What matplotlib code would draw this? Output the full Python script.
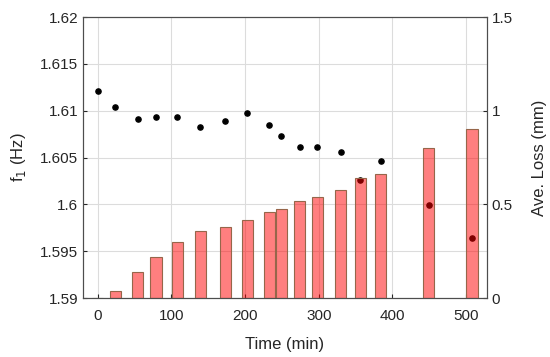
import numpy as np
import matplotlib.pyplot as plt

plt.rcParams['font.family'] = ['Liberation Sans', 'DejaVu Sans']

# time of each measurement (min)
time = [0, 24, 54, 79, 108, 139, 173, 203, 233, 249, 274, 298, 330, 356, 384, 449, 508]
# first natural frequency (Hz)
f1 = [1.6121, 1.6104, 1.6091, 1.6093, 1.6093, 1.6083, 1.6089, 1.6098, 1.6085,
      1.6073, 1.6061, 1.6061, 1.6056, 1.6026, 1.6046, 1.5999, 1.5964]
# average loss (mm)
loss = [0.0, 0.037, 0.137, 0.217, 0.297, 0.358, 0.377, 0.416, 0.459,
        0.477, 0.518, 0.539, 0.578, 0.641, 0.660, 0.801, 0.902]

fig = plt.figure(figsize=(5.5, 3.57), dpi=100)
ax = fig.add_axes([0.151, 0.165, 0.734, 0.787])
ax2 = ax.twinx()

# dots on the left axis, bars on top of them (so dots behind bars look dark red)
ax.scatter(time, f1, s=14, color='black', zorder=3)
ax.set_zorder(1)
ax.patch.set_visible(False)
ax2.set_zorder(2)
ax2.bar(time, loss, width=15, facecolor=(1, 0, 0, 0.5), edgecolor='#96664a', linewidth=0.8)

ax.set_xlim(-20, 528)
ax.set_ylim(1.59, 1.62)
ax.set_yticks([1.59, 1.595, 1.6, 1.605, 1.61, 1.615, 1.62])
ax.set_yticklabels(['1.59', '1.595', '1.6', '1.605', '1.61', '1.615', '1.62'])
ax.set_xticks([0, 100, 200, 300, 400, 500])
ax2.set_ylim(0, 1.5)
ax2.set_yticks([0, 0.5, 1, 1.5])
ax2.set_yticklabels(['0', '0.5', '1', '1.5'])

ax.grid(True, color='#dcdcdc', linewidth=0.8)
ax.set_axisbelow(True)

for a in (ax, ax2):
    a.tick_params(direction='in', labelsize=11, length=3, color='#262626', labelcolor='#262626')
    for s in a.spines.values():
        s.set_color('#4d4d4d')
        s.set_linewidth(0.8)
ax.tick_params(axis='x', pad=8)

ax.set_xlabel('Time (min)', fontsize=12, color='#262626', labelpad=10)
ax.set_ylabel('f$_1$ (Hz)', fontsize=12, color='#262626', labelpad=9)
ax2.set_ylabel('Ave. Loss (mm)', fontsize=12, color='#262626', labelpad=14)

fig.savefig('out.png', dpi=100)
